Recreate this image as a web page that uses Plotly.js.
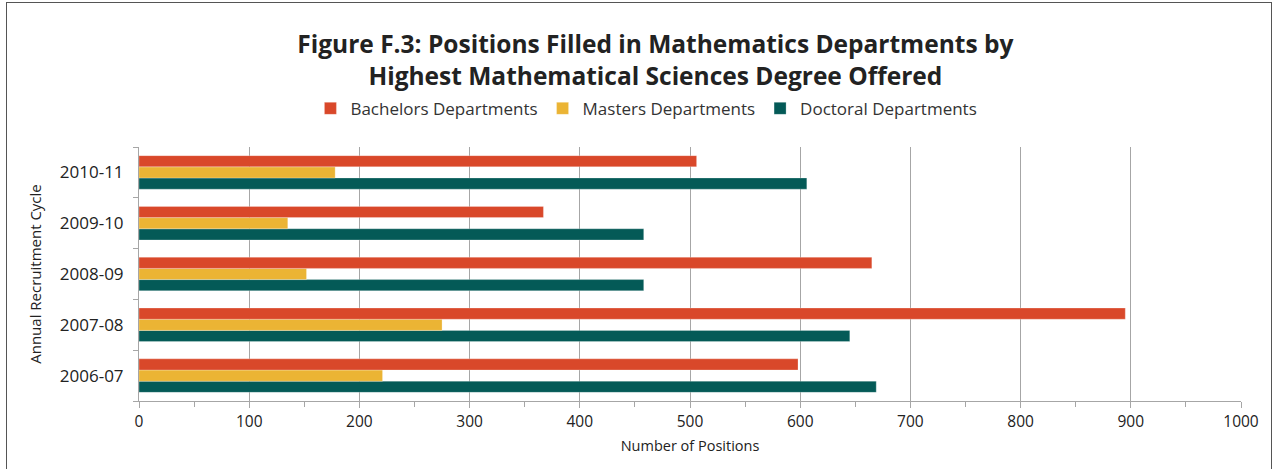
<!DOCTYPE html>
<html><head><meta charset="utf-8">
<script src="https://cdn.plot.ly/plotly-3.0.1.min.js"></script>
<style>
html,body{margin:0;padding:0;background:#fff;}
#wrap{position:relative;width:1275px;height:469px;}
#chart{width:1275px;height:469px;}
#frame{position:absolute;left:6px;top:2px;width:1264px;height:480px;border:1.5px solid #555;pointer-events:none;}
</style>
</head><body>
<div id="wrap"><div id="chart"></div><div id="frame"></div></div>
<script>
const cycles = ['2006-07','2007-08','2008-09','2009-10','2010-11'];
const bachelors = [598, 895, 665, 367, 506];
const masters = [221, 275, 152, 135, 178];
const doctoral = [669, 645, 458, 458, 606];
const tickVals = [0,100,200,300,400,500,600,700,800,900,1000];

const font = "Open Sans, sans-serif";
const traces = [
  {type:'bar', orientation:'h', name:'Doctoral Departments', y:cycles, x:doctoral,
   marker:{color:'#045A57', line:{color:'rgba(255,255,255,0.5)', width:0.5}}},
  {type:'bar', orientation:'h', name:'Masters Departments', y:cycles, x:masters,
   marker:{color:'#EBB434', line:{color:'rgba(255,255,255,0.5)', width:0.5}}},
  {type:'bar', orientation:'h', name:'Bachelors Departments', y:cycles, x:bachelors,
   marker:{color:'#D9482A', line:{color:'rgba(255,255,255,0.5)', width:0.5}}}
];
const layout = {
  width:1275, height:469,
  margin:{l:139, r:34, t:147, b:68},
  paper_bgcolor:'#fff', plot_bgcolor:'#fff',
  barmode:'group', bargap:0.34, bargroupgap:0,
  font:{family:font, color:'#222'},
  title:{text:'<b>Figure F.3: Positions Filled in Mathematics Departments by<br>Highest Mathematical Sciences Degree Offered</b>',
    x:0.514, xref:'container', xanchor:'center', y:0.887, yref:'container', yanchor:'top',
    font:{family:font, size:24.5, color:'#222'}},
  legend:{orientation:'h', x:0.507, xref:'container', xanchor:'center', y:0.768, yref:'container', yanchor:'middle',
    traceorder:'reversed', itemwidth:30, font:{family:font, size:17, color:'#333'}},
  xaxis:{range:[0,1000], tickvals:tickVals, ticktext:tickVals.map(String), showgrid:true, gridcolor:'#a6a6a6', gridwidth:1,
    showline:true, linecolor:'#a6a6a6', linewidth:1, ticks:'outside', ticklen:6, tickcolor:'#a6a6a6',
    minor:{dtick:50, ticks:'outside', ticklen:5, tickcolor:'#a6a6a6', showgrid:false},
    tickfont:{family:font, size:15.5, color:'#222'}, zeroline:false, fixedrange:true,
    title:{text:'Number of Positions', font:{family:font, size:14.5, color:'#222'}, standoff:10}},
  yaxis:{type:'category', categoryorder:'array', categoryarray:cycles,
    showline:true, linecolor:'#a6a6a6', linewidth:1, ticks:'outside', tickson:'boundaries', ticklen:5, tickcolor:'#a6a6a6',
    showgrid:false, tickfont:{family:font, size:17, color:'#222'}, ticklabelstandoff:11,
    title:{text:'Annual Recruitment Cycle', font:{family:font, size:15, color:'#222'}, standoff:14}}
};
Plotly.newPlot('chart', traces, layout, {displayModeBar:false, staticPlot:true});
</script>
</body></html>
